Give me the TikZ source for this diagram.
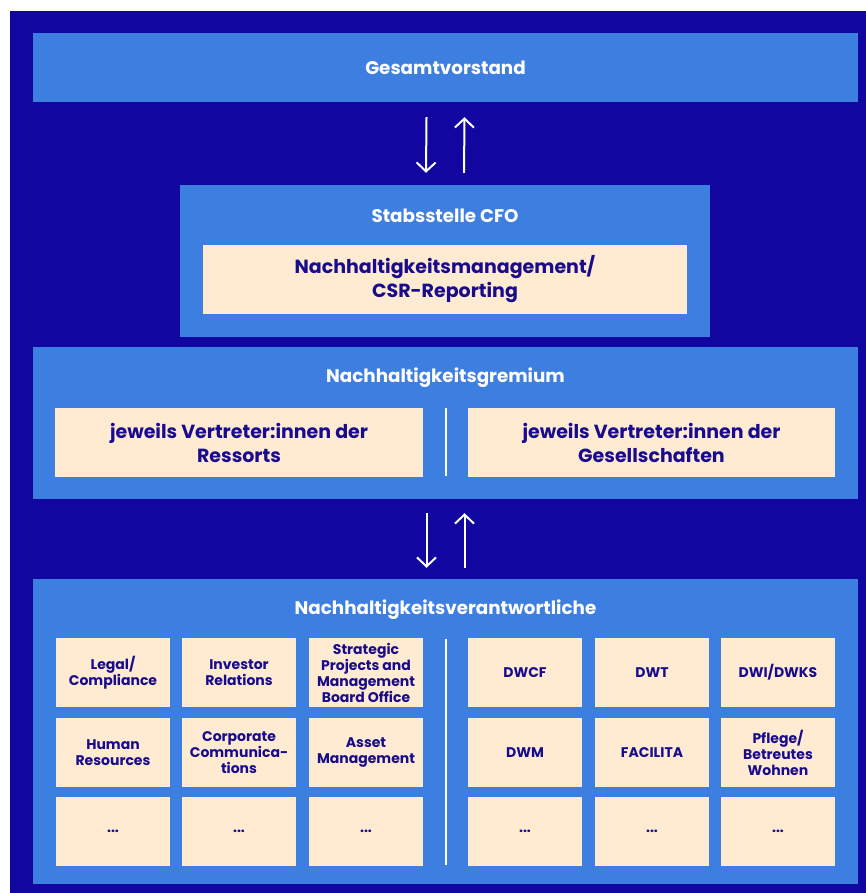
\documentclass[tikz,border=0pt]{standalone}
\usepackage{fontspec}
\setmainfont{Poppins}
\usepackage{tikz}
\usetikzlibrary{arrows.meta, positioning}
\definecolor{navy}{RGB}{18,6,160}
\definecolor{skyblue}{RGB}{61,127,224}
\definecolor{cream}{RGB}{255,234,210}
\definecolor{inktext}{RGB}{24,12,140}

\begin{document}
\begin{tikzpicture}[x=1pt, y=-1pt,
    panel/.style={fill=skyblue, inner sep=0pt},
    title/.style={text=white, font=\fontsize{18.3}{22}\selectfont\bfseries},
    card/.style={fill=cream, text=inktext, align=center, inner sep=0pt,
      font=\fontsize{19}{24}\selectfont\bfseries},
    cell/.style={card, minimum width=114pt, minimum height=69pt,
      font=\fontsize{14}{16}\selectfont\bfseries},
    flow/.style={white, line width=2pt, -{Straight Barb[length=9pt,width=19pt]}},
    divider/.style={white, line width=2.5pt}]
            % Hintergrund
            \useasboundingbox (0,0) rectangle (866,893);
            \fill[navy] (10,11) rectangle (866,893);
            % Ebene 1
            \node[panel, title, minimum width=825pt, minimum height=69pt] (vorstand) at (445.5,67.5) {Gesamtvorstand};
            % Ebene 2
            \node[panel, minimum width=530pt, minimum height=152pt] (cfo) at (445,261) {};
            \node[title] (cfotitle) at (445,216) {Stabsstelle CFO};
            \node[card, minimum width=484pt, minimum height=69pt] (csr) at (445,279.5) {Nachhaltigkeitsmanagement/\\CSR-Reporting};
            \draw[flow] ([xshift=-19pt, yshift=-15pt]vorstand.south) -- ([xshift=-19pt, yshift=12pt]cfo.north);
            \draw[flow] ([xshift=19pt, yshift=12pt]cfo.north) -- ([xshift=19pt, yshift=-15pt]vorstand.south);
            % Ebene 3
            \node[panel, minimum width=825pt, minimum height=152pt] (gremium) at (445.5,423) {};
            \node[title] (gremiumtitle) at (445.5,378) {Nachhaltigkeitsgremium};
            \node[card, minimum width=368pt, minimum height=69pt] (ressorts) at (239,442.5) {jeweils Vertreter:innen der\\Ressorts};
            \node[card, minimum width=367pt, minimum height=69pt] (gesell) at (651.5,442.5) {jeweils Vertreter:innen der\\Gesellschaften};
            \draw[divider] (446,408) -- (446,476);
            % Ebene 4
            \node[panel, minimum width=825pt, minimum height=305pt] (verantw) at (445.5,731.5) {};
            \node[title] (verantwtitle) at (445.5,610) {Nachhaltigkeitsverantwortliche};
            \draw[flow] ([xshift=-19pt, yshift=-14pt]gremium.south) -- ([xshift=-19pt, yshift=11pt]verantw.north);
            \draw[flow] ([xshift=19pt, yshift=11pt]verantw.north) -- ([xshift=19pt, yshift=-14pt]gremium.south);
            \foreach \name/\x/\y/\txt in {
                legal/113/672.5/{Legal/\\Compliance},
                investor/239/672.5/{Investor\\Relations},
                strategic/366/672.5/{Strategic\\Projects and\\Management\\Board Office},
                human/113/752.5/{Human\\Resources},
                corporate/239/752.5/{Corporate\\Communica-\\tions},
                asset/366/752.5/{Asset\\Management},
                resA/113/831.5/{...},
                resB/239/831.5/{...},
                resC/366/831.5/{...},
                dwcf/525/672.5/{DWCF},
                dwt/652/672.5/{DWT},
                dwi/778/672.5/{DWI/DWKS},
                dwm/525/752.5/{DWM},
                facilita/652/752.5/{FACILITA},
                pflege/778/752.5/{Pflege/\\Betreutes\\Wohnen},
                gesA/525/831.5/{...},
                gesB/652/831.5/{...},
                gesC/778/831.5/{...}}
              \node[cell] (\name) at (\x,\y) {\txt};
            \draw[divider] (446,639) -- (446,865);
        \end{tikzpicture}
\end{document}
